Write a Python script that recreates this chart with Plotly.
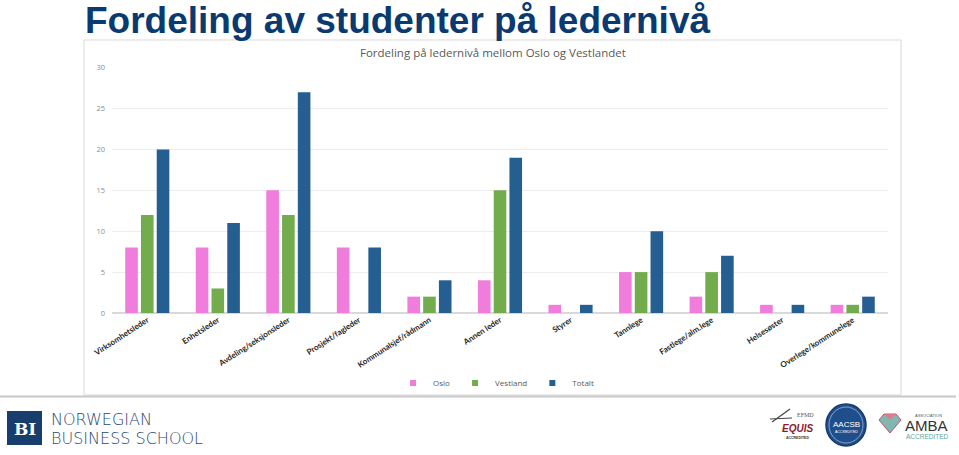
import plotly.graph_objects as go

W, H = 959, 455

categories = ["Virksomhetsleder", "Enhetsleder", "Avdeling/seksjonsleder", "Prosjekt/fagleder",
              "Kommunalsjef/rådmann", "Annen leder", "Styrer", "Tannlege", "Fastlege/alm.lege",
              "Helsesøster", "Overlege/kommunelege"]
oslo = [8, 8, 15, 8, 2, 4, 1, 5, 2, 1, 1]
vestland = [12, 3, 12, 0, 2, 15, 0, 5, 5, 0, 1]
totalt = [20, 11, 27, 8, 4, 19, 1, 10, 7, 1, 2]
y_ticks = [0, 5, 10, 15, 20, 25, 30]

series = [("Oslo", oslo, "#F07CDB"), ("Vestland", vestland, "#72AC4D"), ("Totalt", totalt, "#255E91")]


def px_x(x):
    return x / W


def px_y(y):
    return 1 - y / H


fig = go.Figure()
for name, values, color in series:
    fig.add_trace(go.Bar(x=categories, y=values, name=name, marker_color=color,
                         marker_line_width=0, showlegend=False))
# small square markers for the legend
for name, values, color in series:
    fig.add_trace(go.Scatter(x=[None], y=[None], mode="markers", name=name,
                             marker=dict(symbol="square", size=6, color=color)))

fig.update_layout(
    width=W, height=H,
    margin=dict(l=0, r=0, t=0, b=0),
    paper_bgcolor="white", plot_bgcolor="white",
    barmode="group", bargap=0.33, bargroupgap=0.2,
    font=dict(family="Open Sans", color="#595959"),
    legend=dict(orientation="h", x=px_x(496), xanchor="center", y=px_y(383), yanchor="middle",
                font=dict(size=8, color="#595959"), itemwidth=30, bgcolor="rgba(0,0,0,0)"),
    xaxis=dict(domain=[px_x(112), px_x(888)], tickangle=-33, showgrid=False, automargin=False,
               tickfont=dict(family="Lato", size=8, color="#262626", weight="bold"),
               showline=False, ticks=""),
    yaxis=dict(domain=[px_y(313), px_y(67.7)], range=[0, 30], tickvals=y_ticks, automargin=False,
               gridcolor="#ececec", gridwidth=1, zeroline=True, zerolinecolor="#d9d9d9",
               tickfont=dict(size=7.5, color="#8c8c8c"), ticklabelstandoff=6),
)

shapes = [
    # chart frame
    dict(type="rect", xref="paper", yref="paper", x0=px_x(84), x1=px_x(901), y0=px_y(395), y1=px_y(40),
         line=dict(color="#d9d9d9", width=1)),
    # footer separator
    dict(type="line", xref="paper", yref="paper", x0=0, x1=px_x(956), y0=px_y(396.5), y1=px_y(396.5),
         line=dict(color="#c8c8c8", width=2)),
    # BI logo square
    dict(type="rect", xref="paper", yref="paper", x0=px_x(7), x1=px_x(42), y0=px_y(445), y1=px_y(411),
         fillcolor="#173e6c", line=dict(width=0)),
    # AACSB seal
    dict(type="circle", xref="paper", yref="paper", x0=px_x(826), x1=px_x(866), y0=px_y(446), y1=px_y(404),
         fillcolor="#1f4e8c", line=dict(color="#163a6a", width=1.5)),
    dict(type="circle", xref="paper", yref="paper", x0=px_x(829), x1=px_x(863), y0=px_y(443), y1=px_y(407),
         fillcolor="rgba(0,0,0,0)", line=dict(color="#9fb6d6", width=0.8)),
    # EQUIS swoosh
    dict(type="line", xref="paper", yref="paper", x0=px_x(772), x1=px_x(790), y0=px_y(422), y1=px_y(409),
         line=dict(color="#444444", width=1.2)),
    dict(type="line", xref="paper", yref="paper", x0=px_x(770), x1=px_x(792), y0=px_y(419), y1=px_y(418),
         line=dict(color="#444444", width=1)),
    # AMBA diamond
    dict(type="path", xref="paper", yref="paper",
         path=f"M {px_x(879)},{px_y(420)} L {px_x(884)},{px_y(414)} L {px_x(896)},{px_y(414)} "
              f"L {px_x(901)},{px_y(420)} L {px_x(890)},{px_y(433)} Z",
         fillcolor="#7fb8b0", line=dict(color="#c2506e", width=1)),
    dict(type="path", xref="paper", yref="paper",
         path=f"M {px_x(884)},{px_y(414)} L {px_x(890)},{px_y(420)} L {px_x(896)},{px_y(414)} Z",
         fillcolor="#e07a8f", line=dict(width=0)),
]
fig.update_layout(shapes=shapes)

annotations = [
    dict(text="<b>Fordeling av studenter på ledernivå</b>", x=px_x(83), y=px_y(-2.5), xanchor="left",
         yanchor="top", font=dict(family="Liberation Sans", size=37, color="#0a3a70")),
    dict(text="Fordeling på ledernivå mellom Oslo og Vestlandet", x=px_x(492.5), y=px_y(52.5),
         xanchor="center", yanchor="middle", font=dict(family="Open Sans", size=11.5, color="#595959")),
    dict(text="<b>BI</b>", x=px_x(24.5), y=px_y(428.5), xanchor="center", yanchor="middle",
         font=dict(family="DejaVu Serif", size=17, color="white")),
    dict(text="NORWEGIAN", x=px_x(50), y=px_y(419), xanchor="left", yanchor="middle", borderpad=0,
         font=dict(family="DejaVu Sans", size=16, color="#2a4a72", weight=200)),
    dict(text="BUSINESS SCHOOL", x=px_x(50), y=px_y(438), xanchor="left", yanchor="middle", borderpad=0,
         font=dict(family="DejaVu Sans", size=16, color="#2a4a72", weight=200)),
    dict(text="EFMD", x=px_x(795), y=px_y(415), xanchor="left", yanchor="middle",
         font=dict(family="Liberation Sans Narrow", size=6, color="#555555")),
    dict(text="<b><i>EQUIS</i></b>", x=px_x(797), y=px_y(428), xanchor="center", yanchor="middle",
         font=dict(family="Liberation Sans", size=10, color="#8b1c2c")),
    dict(text="<b>ACCREDITED</b>", x=px_x(797), y=px_y(438), xanchor="center", yanchor="middle",
         font=dict(family="Liberation Sans", size=3.5, color="#333333")),
    dict(text="AACSB", x=px_x(846), y=px_y(424), xanchor="center", yanchor="middle",
         font=dict(family="Liberation Sans", size=8, color="white")),
    dict(text="ACCREDITED", x=px_x(846), y=px_y(432), xanchor="center", yanchor="middle",
         font=dict(family="Liberation Sans", size=3.5, color="white")),
    dict(text="ASSOCIATION", x=px_x(928), y=px_y(415), xanchor="center", yanchor="middle",
         font=dict(family="Liberation Sans", size=4, color="#555555")),
    dict(text="AMBA", x=px_x(926), y=px_y(425), xanchor="center", yanchor="middle",
         font=dict(family="Liberation Sans", size=15, color="#333333")),
    dict(text="ACCREDITED", x=px_x(927), y=px_y(436), xanchor="center", yanchor="middle",
         font=dict(family="Liberation Sans", size=6.5, color="#5aa6a0")),
]
for a in annotations:
    a.update(xref="paper", yref="paper", showarrow=False)
fig.update_layout(annotations=annotations)

# drop the default page margin so the figure sits at the window's top-left corner
fig.write_html("out.html", config={"displayModeBar": False},
               post_script="document.body.style.margin = '0';")
